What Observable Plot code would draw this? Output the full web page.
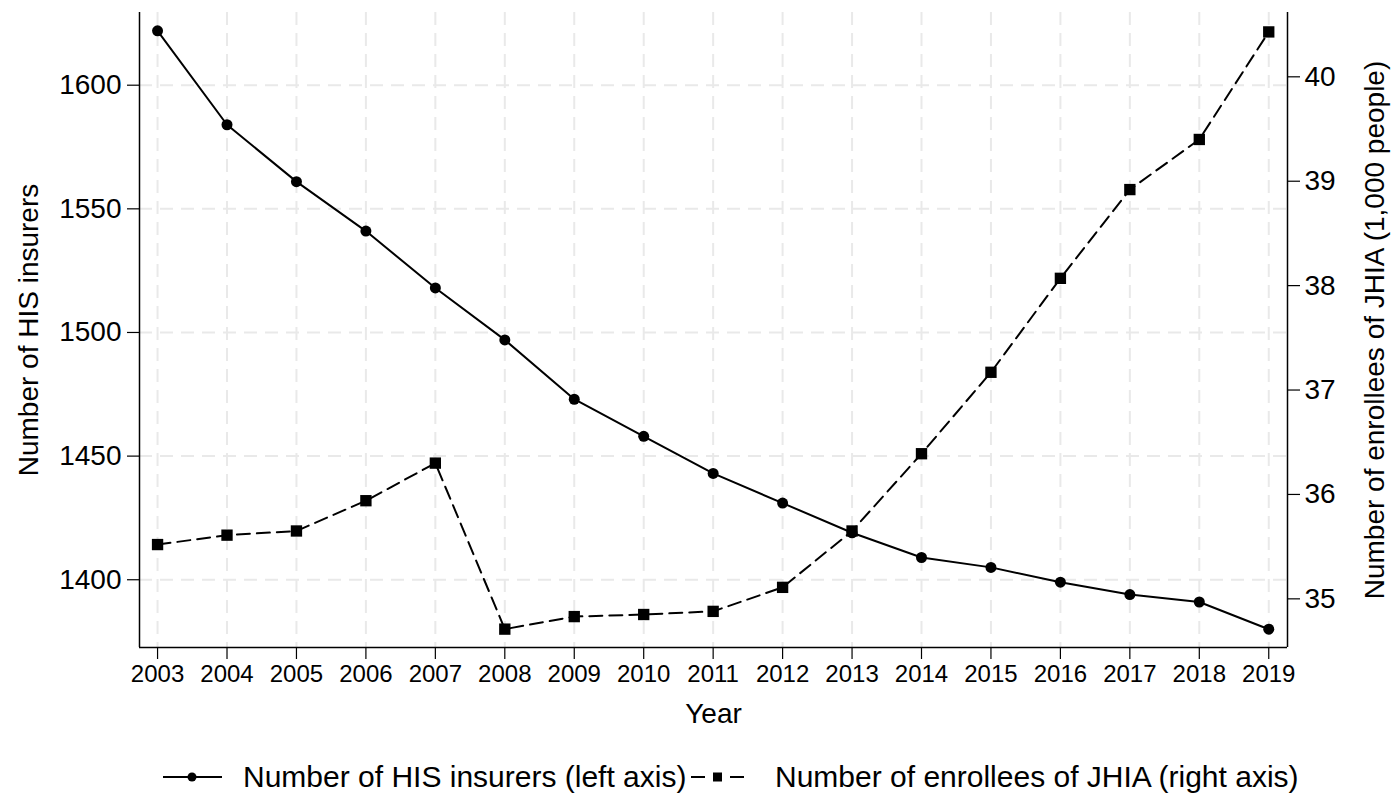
<!DOCTYPE html>
<html><head><meta charset="utf-8">
<script src="https://cdn.jsdelivr.net/npm/d3@7"></script>
<script src="https://cdn.jsdelivr.net/npm/@observablehq/plot@0.6"></script>
<style>
body{margin:0;background:#fff;font-family:"Liberation Sans",Arial,sans-serif;}
#wrap{position:relative;width:1394px;height:795px;overflow:hidden;}
#legend{position:absolute;left:0;top:757px;width:1394px;height:40px;font-size:30px;color:#000;}
#legend .it{position:absolute;top:0;height:40px;line-height:40px;white-space:nowrap;}
</style></head><body><div id="wrap"><div id="chart"></div><div id="legend"></div></div>
<script>
const years = [2003,2004,2005,2006,2007,2008,2009,2010,2011,2012,2013,2014,2015,2016,2017,2018,2019];
const insurers = [1622,1584,1561,1541,1518,1497,1473,1458,1443,1431,1419,1409,1405,1399,1394,1391,1380];
const enrollees = [35.52,35.61,35.65,35.94,36.30,34.71,34.83,34.85,34.88,35.11,35.65,36.39,37.17,38.07,38.92,39.40,40.43];
const leftTicks = [1400,1450,1500,1550,1600];
const rightTicks = [35,36,37,38,39,40];
const leftTitle = "Number of HIS insurers";
const rightTitle = "Number of enrollees of JHIA (1,000 people)";
const xTitle = "Year";
const legendLabels = ["Number of HIS insurers (left axis)", "Number of enrollees of JHIA (right axis)"];

const xDom = [2002.74, 2019.27];
const yDom = [1372.6, 1629.4];
const rDom = [34.534, 40.616];
const toLeft = v => yDom[0] + (v - rDom[0]) * (yDom[1] - yDom[0]) / (rDom[1] - rDom[0]);
const toRight = u => rDom[0] + (u - yDom[0]) * (rDom[1] - rDom[0]) / (yDom[1] - yDom[0]);

const dataL = years.map((y, i) => ({year: y, v: insurers[i]}));
const dataR = years.map((y, i) => ({year: y, v: toLeft(enrollees[i])}));

const grid = "#e9e9e9";
const chart = Plot.plot({
  width: 1394, height: 745,
  marginLeft: 139, marginRight: 107, marginTop: 12, marginBottom: 98,
  style: {fontFamily: '"Liberation Sans", Arial, sans-serif', color: "#000", background: "#fff"},
  x: {domain: xDom},
  y: {domain: yDom},
  marks: [
    Plot.gridX(years, {stroke: grid, strokeOpacity: 1, strokeWidth: 2, strokeDasharray: "13,8"}),
    Plot.gridY(leftTicks, {stroke: grid, strokeOpacity: 1, strokeWidth: 2, strokeDasharray: "13,8"}),
    Plot.ruleX([xDom[0], xDom[1]], {stroke: "#000", strokeWidth: 1.5}),
    Plot.ruleY([yDom[0]], {stroke: "#000", strokeWidth: 1.5}),
    Plot.axisX(years, {anchor: "bottom", tickSize: 12, tickPadding: 5, fontSize: 24, tickFormat: d => String(d), label: null, strokeWidth: 1.2}),
    Plot.axisY(leftTicks, {anchor: "left", tickSize: 12, tickPadding: 6, fontSize: 28, label: null, tickFormat: d => String(d), strokeWidth: 1.2}),
    Plot.axisY(rightTicks.map(toLeft), {anchor: "right", tickSize: 12, tickPadding: 5, fontSize: 28, label: null, tickFormat: u => String(Math.round(toRight(u))), strokeWidth: 1.2}),
    Plot.text([leftTitle], {frameAnchor: "left", dx: -110, rotate: -90, fontSize: 28, textAnchor: "middle", lineAnchor: "middle"}),
    Plot.text([rightTitle], {frameAnchor: "right", dx: 88, rotate: -90, fontSize: 28, textAnchor: "middle", lineAnchor: "middle"}),
    Plot.text([xTitle], {frameAnchor: "bottom", dy: 67, fontSize: 28, textAnchor: "middle", lineAnchor: "middle"}),
    Plot.line(dataL, {x: "year", y: "v", stroke: "#000", strokeWidth: 2}),
    Plot.dot(dataL, {x: "year", y: "v", r: 5.5, fill: "#000", stroke: "none"}),
    Plot.line(dataR, {x: "year", y: "v", stroke: "#000", strokeWidth: 2, strokeDasharray: "13,7"}),
    Plot.dot(dataR, {x: "year", y: "v", r: 6.4, symbol: "square", fill: "#000", stroke: "none"})
  ]
});
document.getElementById("chart").appendChild(chart);

const lg = document.getElementById("legend");
lg.innerHTML =
  `<div class="it" style="left:158px;"><svg width="70" height="40" style="display:block"><line x1="5" x2="64" y1="20" y2="20" stroke="#000" stroke-width="2"/><circle cx="34" cy="20" r="4.5" fill="#000"/></svg></div>` +
  `<div class="it" style="left:243px;">${legendLabels[0]}</div>` +
  `<div class="it" style="left:686px;"><svg width="80" height="40" style="display:block"><line x1="5" x2="19" y1="20" y2="20" stroke="#000" stroke-width="2"/><line x1="44" x2="58" y1="20" y2="20" stroke="#000" stroke-width="2"/><rect x="27" y="15.5" width="9" height="9" fill="#000"/></svg></div>` +
  `<div class="it" style="left:775px;">${legendLabels[1]}</div>`;
</script></body></html>
